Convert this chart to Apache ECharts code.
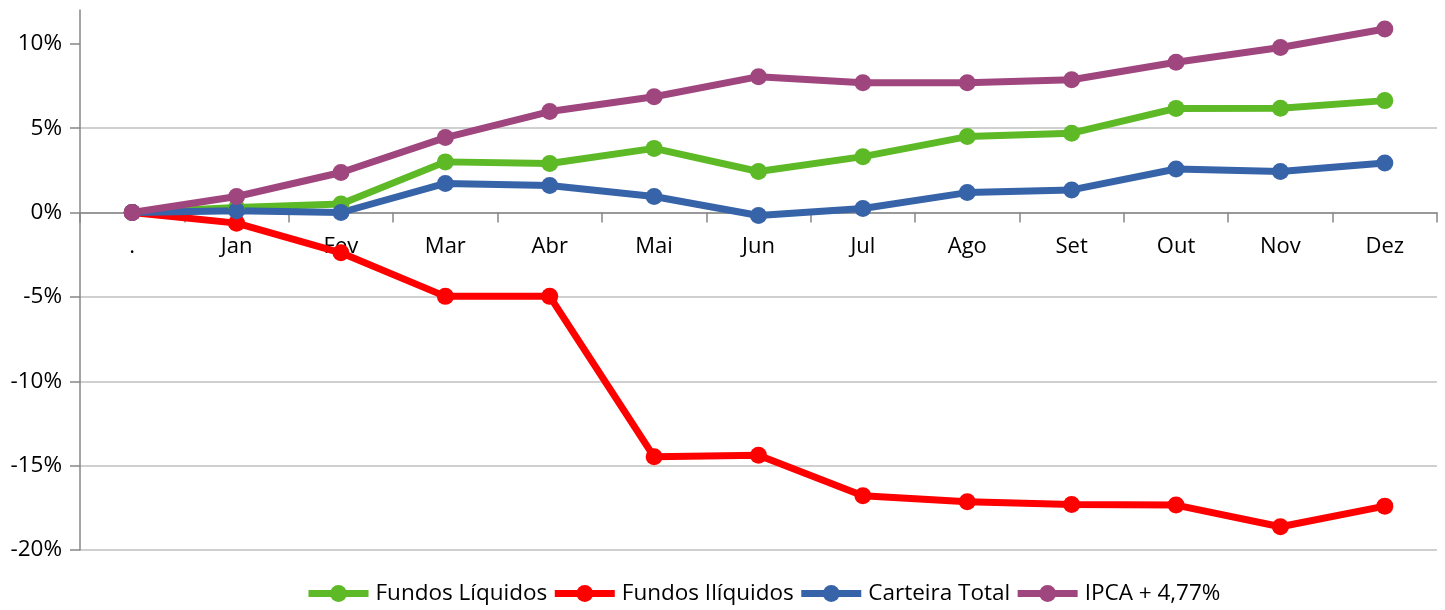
<!DOCTYPE html>
<html>
<head>
<meta charset="utf-8">
<script src="https://cdn.jsdelivr.net/npm/echarts@6/dist/echarts.min.js"></script>
<style>html,body{margin:0;padding:0;background:#fff}#c{width:1445px;height:610px}</style>
</head>
<body>
<div id="c"></div>
<script>
const categories = ['.', 'Jan', 'Fev', 'Mar', 'Abr', 'Mai', 'Jun', 'Jul', 'Ago', 'Set', 'Out', 'Nov', 'Dez'];
const fundosLiquidos = [0, 0.3, 0.5, 3.0, 2.9, 3.8, 2.43, 3.31, 4.5, 4.7, 6.17, 6.18, 6.63];
const fundosIliquidos = [0, -0.63, -2.39, -4.97, -4.97, -14.48, -14.38, -16.79, -17.14, -17.3, -17.34, -18.62, -17.4];
const carteiraTotal = [0, 0.1, 0.0, 1.72, 1.6, 0.95, -0.18, 0.24, 1.18, 1.34, 2.58, 2.43, 2.94];
const ipca = [0, 0.95, 2.37, 4.44, 5.98, 6.86, 8.05, 7.69, 7.69, 7.87, 8.9, 9.78, 10.87];
const yTicks = [-20, -15, -10, -5, 0, 5, 10];
const yMin = -20, yMax = 12;

const FONT = 'Open Sans';
const GRID_TOP = 10, GRID_BOTTOM = 60, H = 610;
const plotH = H - GRID_TOP - GRID_BOTTOM;
// distance from grid bottom up to the zero line (layout only)
const zeroOffset = plotH * (0 - yMin) / (yMax - yMin);

function mk(name, data, color) {
  return {
    name: name, type: 'line', data: data,
    symbol: 'circle', symbolSize: 17, showAllSymbol: true,
    lineStyle: { width: 7, color: color },
    itemStyle: { color: color },
    emphasis: { disabled: true }
  };
}
const chart = echarts.init(document.getElementById('c'));
chart.setOption({
  animation: false,
  backgroundColor: '#fff',
  grid: { left: 80, right: 8, top: GRID_TOP, bottom: GRID_BOTTOM, containLabel: false },
  legend: {
    bottom: 0, left: 300,
    itemWidth: 60, itemHeight: 21, itemGap: 4,
    lineStyle: { width: 7 },
    textStyle: { fontFamily: FONT, fontSize: 22.5, color: '#000', padding: [0, 0, 0, 2] },
    data: ['Fundos Líquidos', 'Fundos Ilíquidos', 'Carteira Total', 'IPCA + 4,77%']
  },
  xAxis: {
    type: 'category', data: categories, boundaryGap: true,
    position: 'bottom', offset: -zeroOffset,
    axisLine: { onZero: false, lineStyle: { color: '#868686', width: 1.5 } },
    axisTick: { show: true, length: 10, lineStyle: { color: '#868686', width: 1.5 } },
    axisLabel: { margin: 23, fontFamily: FONT, fontSize: 22, color: '#000', interval: 0 },
    splitLine: { show: false }
  },
  yAxis: {
    type: 'value', min: yMin, max: yMax, interval: 5,
    axisLine: { show: true, lineStyle: { color: '#868686', width: 1.5 } },
    axisTick: { show: true, length: 10, customValues: yTicks, lineStyle: { color: '#868686', width: 1.5 } },
    axisLabel: { margin: 18, customValues: yTicks, fontFamily: FONT, fontSize: 22.5, color: '#000',
      formatter: v => v + '%' },
    splitLine: { show: true, showMaxLine: false, lineStyle: { color: '#c0c0c0', width: 1.5 } }
  },
  series: [
    mk('Fundos Líquidos', fundosLiquidos, '#5db925'),
    mk('Fundos Ilíquidos', fundosIliquidos, '#ff0000'),
    mk('Carteira Total', carteiraTotal, '#3764a8'),
    mk('IPCA + 4,77%', ipca, '#a0467f')
  ]
});
</script>
</body>
</html>
